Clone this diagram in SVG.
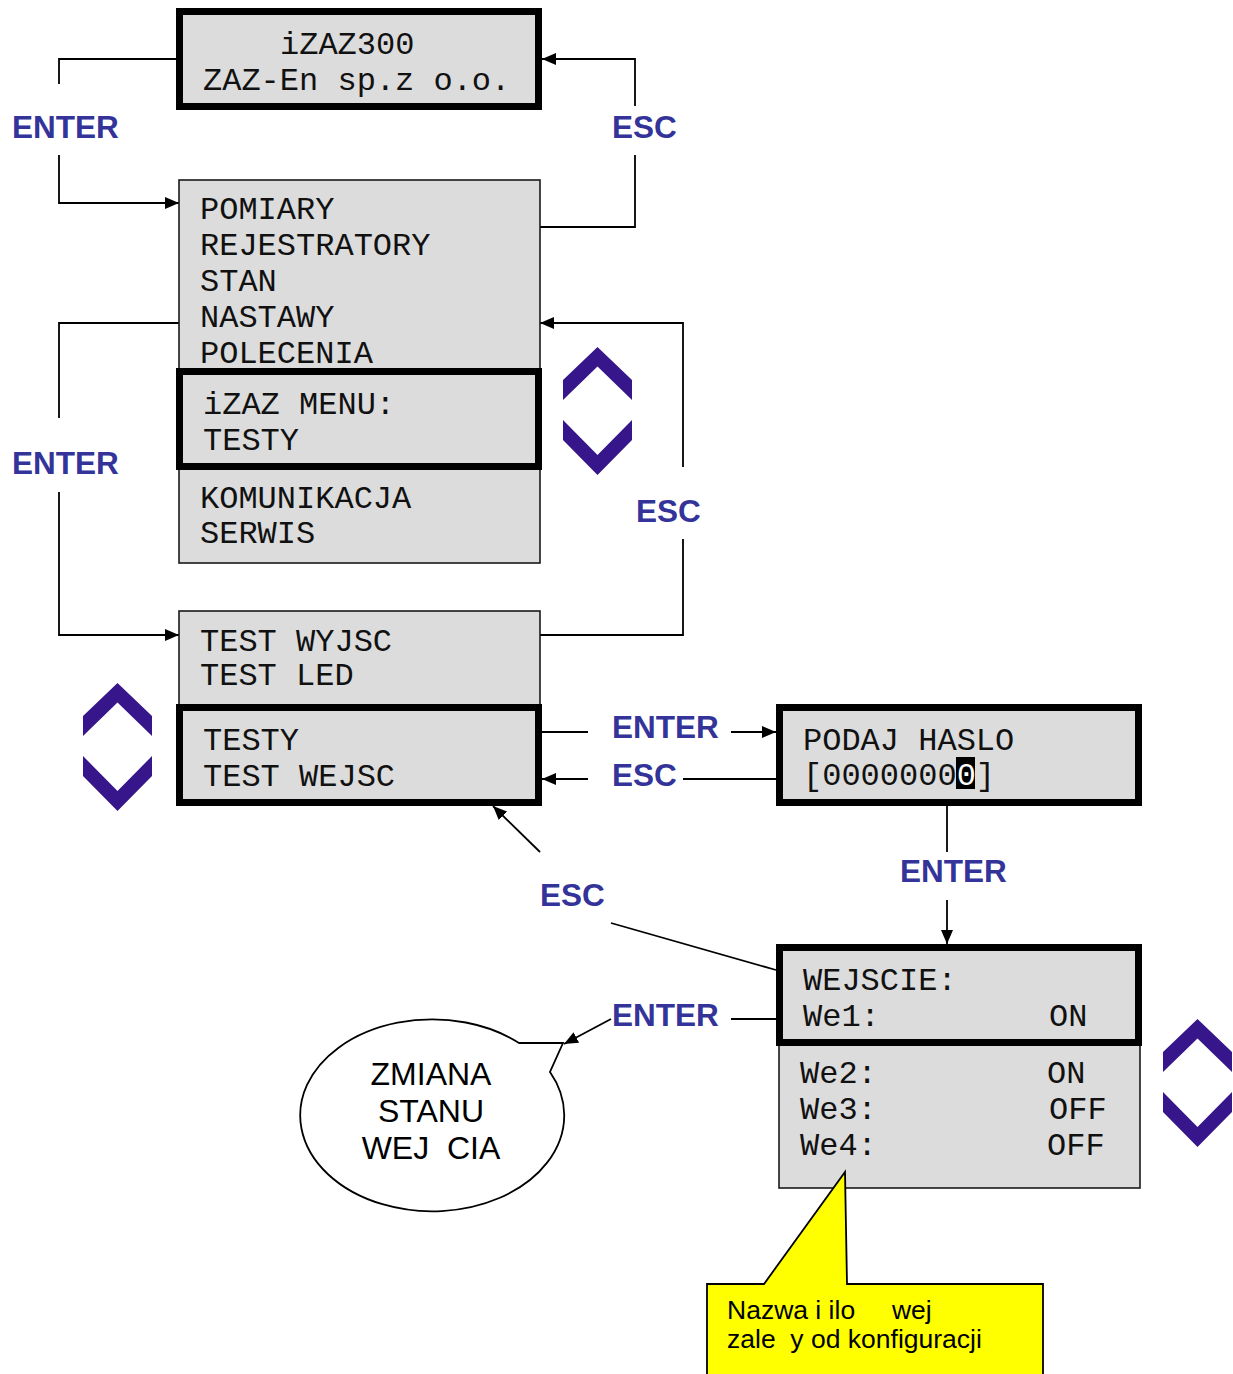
<svg xmlns="http://www.w3.org/2000/svg" width="1233" height="1374" viewBox="0 0 1233 1374">
<defs>
<style>
.thin{fill:#dcdcdc;stroke:#1a1a1a;stroke-width:1.6}
.thick{fill:#dcdcdc;stroke:#000;stroke-width:7}
.mono{font-family:"Liberation Mono","DejaVu Sans Mono",monospace;font-size:32px;fill:#111;white-space:pre}
.lbl{font-family:"Liberation Sans",Arial,sans-serif;font-size:31.5px;font-weight:bold;fill:#333399}
.sans{font-family:"Liberation Sans",Arial,sans-serif;fill:#000;white-space:pre}
.ln{fill:none;stroke:#000;stroke-width:1.8}
.chev{fill:#36168a}
</style>
<marker id="ah" viewBox="0 0 14 12" refX="14" refY="6" markerWidth="14" markerHeight="12" markerUnits="userSpaceOnUse" orient="auto">
<path d="M0,0 L14,6 L0,12 Z" fill="#000"/>
</marker>
<g id="chevpair">
<polygon class="chev" points="0,33 34.5,0 69,33 69,53 34.5,19.5 0,53"/>
<polygon class="chev" points="0,73 34.5,108 69,73 69,93 34.5,128 0,93"/>
</g>
</defs>
<rect width="1233" height="1374" fill="#fff"/>

<g id="connectors">
<polyline class="ln" points="176,59 59,59 59,84"/>
<polyline class="ln" points="59,155 59,203 179,203" marker-end="url(#ah)"/>
<polyline class="ln" points="540,227 635,227 635,155"/>
<polyline class="ln" points="635,106 635,59 542,59" marker-end="url(#ah)"/>
<polyline class="ln" points="179,323 59,323 59,418"/>
<polyline class="ln" points="59,492 59,635 179,635" marker-end="url(#ah)"/>
<polyline class="ln" points="540,635 683,635 683,539"/>
<polyline class="ln" points="683,467 683,323 540,323" marker-end="url(#ah)"/>
<line class="ln" x1="542" y1="732" x2="588" y2="732"/>
<line class="ln" x1="731" y1="732" x2="776" y2="732" marker-end="url(#ah)"/>
<line class="ln" x1="588" y1="779" x2="542" y2="779" marker-end="url(#ah)"/>
<line class="ln" x1="683" y1="779" x2="776" y2="779"/>
<line class="ln" x1="947" y1="806" x2="947" y2="852"/>
<line class="ln" x1="947" y1="900" x2="947" y2="944" marker-end="url(#ah)"/>
<line class="ln" x1="776" y1="970" x2="611" y2="923"/>
<line class="ln" x1="540" y1="852" x2="493" y2="806" marker-end="url(#ah)"/>
<line class="ln" x1="776" y1="1019" x2="731" y2="1019"/>
<line class="ln" x1="611" y1="1019" x2="564" y2="1044" marker-end="url(#ah)"/>
</g>

<g id="labels">
<text class="lbl" x="12" y="138">ENTER</text>
<text class="lbl" x="612" y="138">ESC</text>
<text class="lbl" x="12" y="474">ENTER</text>
<text class="lbl" x="636" y="522">ESC</text>
<text class="lbl" x="612" y="738">ENTER</text>
<text class="lbl" x="612" y="786">ESC</text>
<text class="lbl" x="900" y="882">ENTER</text>
<text class="lbl" x="540" y="906">ESC</text>
<text class="lbl" x="612" y="1026">ENTER</text>
</g>

<g id="node-start">
<rect class="thick" x="179.5" y="11.5" width="359" height="95"/>
<text class="mono" x="280" y="54">iZAZ300</text>
<text class="mono" x="203" y="90">ZAZ-En sp.z o.o.</text>
</g>

<g id="node-menu">
<rect class="thin" x="179" y="180" width="361" height="383"/>
<text class="mono" x="200" y="219">POMIARY</text>
<text class="mono" x="200" y="255">REJESTRATORY</text>
<text class="mono" x="200" y="291">STAN</text>
<text class="mono" x="200" y="327">NASTAWY</text>
<text class="mono" x="200" y="363">POLECENIA</text>
<text class="mono" x="200" y="508">KOMUNIKACJA</text>
<text class="mono" x="200" y="543">SERWIS</text>
</g>
<g id="node-menu-sel">
<rect class="thick" x="179.5" y="371.5" width="359" height="95"/>
<text class="mono" x="203" y="414">iZAZ MENU:</text>
<text class="mono" x="203" y="450">TESTY</text>
</g>

<g id="node-testy">
<rect class="thin" x="179" y="611" width="361" height="95"/>
<text class="mono" x="200" y="651">TEST WYJSC</text>
<text class="mono" x="200" y="685">TEST LED</text>
</g>
<g id="node-testy-sel">
<rect class="thick" x="179.5" y="707.5" width="359" height="95"/>
<text class="mono" x="203" y="750">TESTY</text>
<text class="mono" x="203" y="786">TEST WEJSC</text>
</g>

<g id="node-haslo">
<rect class="thick" x="779.5" y="707.5" width="359" height="95"/>
<text class="mono" x="803" y="750">PODAJ HASLO</text>
<rect x="956" y="757" width="19" height="32" fill="#000"/>
<text class="mono" x="803" y="785">[0000000<tspan fill="#fff">0</tspan>]</text>
</g>

<g id="node-wejscie-list">
<rect class="thin" x="779" y="1045" width="361" height="143"/>
<text class="mono" x="800" y="1083">We2:<tspan x="1047">ON</tspan></text>
<text class="mono" x="800" y="1119">We3:<tspan x="1049">OFF</tspan></text>
<text class="mono" x="800" y="1155">We4:<tspan x="1047">OFF</tspan></text>
</g>
<g id="node-wejscie">
<rect class="thick" x="779.5" y="947.5" width="359" height="95"/>
<text class="mono" x="803" y="990">WEJSCIE:</text>
<text class="mono" x="803" y="1026">We1:<tspan x="1049">ON</tspan></text>
</g>

<g id="node-bubble">
<path d="M519,1043 L563,1043 L550,1072 A132,96 0 1 1 519,1043 Z" fill="#fff" stroke="#000" stroke-width="1.8"/>
<text class="sans" x="431" y="1085" font-size="32" text-anchor="middle">ZMIANA</text>
<text class="sans" x="431" y="1122" font-size="32" text-anchor="middle">STANU</text>
<text class="sans" x="431" y="1159" font-size="32" text-anchor="middle">WEJ  CIA</text>
</g>

<g id="node-note">
<path d="M707,1376 L707,1284 L764,1284 L845,1172 L847,1284 L1043,1284 L1043,1376" fill="#ffff00" stroke="#000" stroke-width="1.8"/>
<text class="sans" x="727" y="1319" font-size="26.5">Nazwa i ilo     wej</text>
<text class="sans" x="727" y="1348" font-size="26.5">zale  y od konfiguracji</text>
</g>

<g id="chevrons">
<use href="#chevpair" x="563" y="347"/>
<use href="#chevpair" x="83" y="683"/>
<use href="#chevpair" x="1163" y="1019"/>
</g>
</svg>
